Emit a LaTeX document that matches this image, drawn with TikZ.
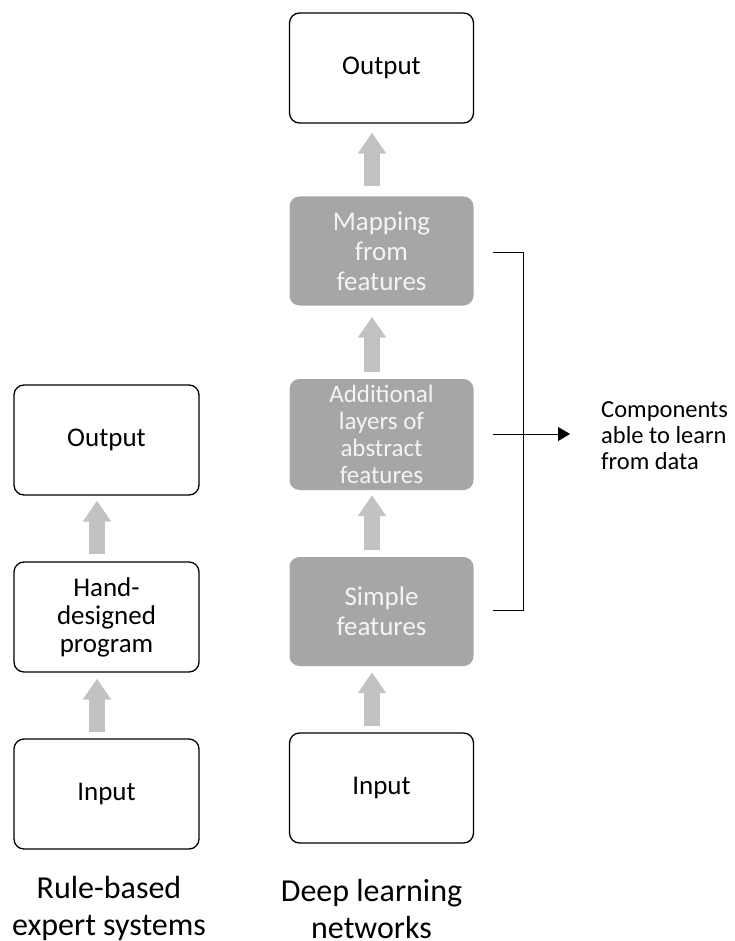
\documentclass[tikz,border=0pt]{standalone}
\usepackage{fontspec}
\setmainfont{Carlito}
\usetikzlibrary{arrows.meta}
\definecolor{boxgray}{HTML}{A6A6A6}
\definecolor{arrgray}{HTML}{C2C2C2}
\definecolor{txtwhite}{HTML}{F4F4F4}
\begin{document}
\begin{tikzpicture}[x=1pt,y=-1pt,
  wbox/.style={draw=black, line width=1.3pt, rounded corners=10pt, minimum width=184pt, minimum height=110pt, align=center, inner sep=0pt, font=\fontsize{27}{29}\selectfont},
  gbox/.style={fill=boxgray, rounded corners=10pt, minimum width=184pt, minimum height=109pt, align=center, text=txtwhite, inner sep=0pt, font=\fontsize{27}{30}\selectfont},
  bigarrow/.style={draw=arrgray, line width=16pt, -{Triangle[width=27pt,length=21pt]}},
  caption/.style={align=center, inner sep=0pt, font=\fontsize{32}{37}\selectfont},
  bracket/.style={draw=black, line width=0.9pt}]
\useasboundingbox (0,0) rectangle (734,941);
% right column
\node[wbox] (outR) at (381.5,68) {\raisebox{-3pt}{Output}};
\node[gbox] (map) at (381.5,251) {Mapping\\from\\features};
\node[gbox, font=\fontsize{25}{27}\selectfont, minimum height=111pt] (add) at (381.5,434.5) {Additional\\layers of\\abstract\\features};
\node[gbox] (simp) at (381.5,611.5) {Simple\\features};
\node[wbox] (inR) at (381.5,788) {Input};
% left column
\node[wbox, minimum width=185pt] (outL) at (106.5,440) {\raisebox{-3pt}{Output}};
\node[wbox, minimum width=185pt, font=\fontsize{27}{28}\selectfont] (hand) at (106.5,617) {Hand-\\designed\\program};
\node[wbox, minimum width=185pt] (inL) at (106.5,794) {Input};
% captions
\node[caption] (capL) at (109,908.5) {Rule-based\\expert systems};
\node[caption] (capR) at (371.5,908.5) {Deep learning\\networks};
% gray arrows
\draw[bigarrow] ([xshift=-9.5pt,yshift=10pt]map.north) -- ([xshift=-9.5pt,yshift=-9pt]outR.south);
\draw[bigarrow] ([xshift=-9.5pt,yshift=7pt]add.north) -- ([xshift=-9.5pt,yshift=-11pt]map.south);
\draw[bigarrow] ([xshift=-9.5pt,yshift=7pt]simp.north) -- ([xshift=-9.5pt,yshift=-5pt]add.south);
\draw[bigarrow] ([xshift=-9.5pt,yshift=6pt]inR.north) -- ([xshift=-9.5pt,yshift=-6pt]simp.south);
\draw[bigarrow] ([xshift=-9.5pt,yshift=7pt]hand.north) -- ([xshift=-9.5pt,yshift=-5pt]outL.south);
\draw[bigarrow] ([xshift=-9.5pt,yshift=6pt]inL.north) -- ([xshift=-9.5pt,yshift=-6pt]hand.south);
% bracket
\coordinate (btop) at (493,252);
\coordinate (bbot) at (493,610);
\coordinate (bmid) at (493,434);
\coordinate (atip) at (570,434);
\draw[bracket] (btop) -- ++(30,0) |- (bbot);
\draw[bracket, -{Triangle[width=14pt,length=12pt]}] (bmid) -- (atip);
\node[anchor=west, align=left, inner sep=0pt, font=\fontsize{24.5}{26}\selectfont] (comp) at (601,436) {Components\\able to learn\\from data};
\end{tikzpicture}
\end{document}
